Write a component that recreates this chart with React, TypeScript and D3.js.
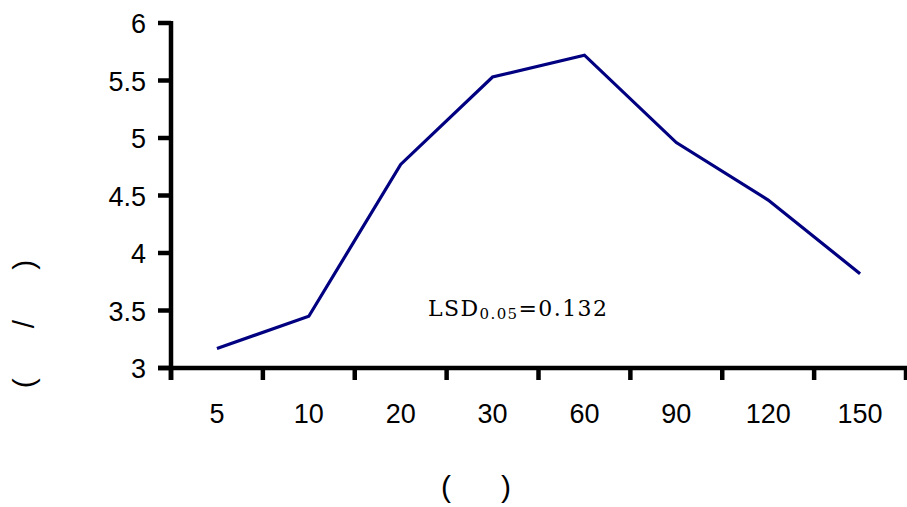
import React from "react";
import * as d3 from "d3";

const categories = ["5", "10", "20", "30", "60", "90", "120", "150"];
const values = [3.17, 3.45, 4.77, 5.53, 5.72, 4.96, 4.46, 3.82];
const yTicks = [3, 3.5, 4, 4.5, 5, 5.5, 6];
const yTickLabels = ["3", "3.5", "4", "4.5", "5", "5.5", "6"];
const annotation = { main: "LSD", sub: "0.05", rest: "=0.132" };
const xTitle = "(      )";
const yTitle = "(      /      )";

export default function App() {
  const W = 907, H = 507;
  const left = 171, right = 906, top = 23, bottom = 368;
  const x = d3.scaleBand<string>().domain(categories).range([left, right]);
  const y = d3.scaleLinear().domain([3, 6]).range([bottom, top]);
  const line = d3
    .line<number>()
    .x((_, i) => (x(categories[i]) as number) + x.bandwidth() / 2)
    .y((d) => y(d));
  const font = "'Liberation Sans', Arial, sans-serif";
  const xTickPos = [...categories.map((c) => x(c) as number), right];
  return (
    <svg width={W} height={H} style={{ position: "absolute", left: 0, top: 0, background: "#fff" }}>
      <path d={line(values) || ""} fill="none" stroke="#000080" strokeWidth={3.2} strokeLinejoin="miter" />
      {/* y axis */}
      <line x1={left} x2={left} y1={top - 2} y2={bottom + 12} stroke="#000" strokeWidth={4.5} />
      {yTicks.map((t, i) => (
        <g key={t}>
          <line x1={left - 13} x2={left} y1={y(t)} y2={y(t)} stroke="#000" strokeWidth={4.5} />
          <text x={146} y={y(t) + 10} textAnchor="end" fontFamily={font} fontSize={27} fill="#000">
            {yTickLabels[i]}
          </text>
        </g>
      ))}
      {/* x axis */}
      <line x1={left - 13} x2={right + 2} y1={bottom} y2={bottom} stroke="#000" strokeWidth={4.5} />
      {xTickPos.map((p, i) => (
        <line key={i} x1={p} x2={p} y1={bottom} y2={bottom + 12} stroke="#000" strokeWidth={4.5} />
      ))}
      {categories.map((c) => (
        <text key={c} x={(x(c) as number) + x.bandwidth() / 2} y={423} textAnchor="middle" fontFamily={font} fontSize={27} fill="#000">
          {c}
        </text>
      ))}
      <text x={428} y={316} fontFamily="'DejaVu Serif', serif" fontSize={22} letterSpacing={1.4} fill="#000">
        {annotation.main}
        <tspan fontSize={15} dy={3}>{annotation.sub}</tspan>
        <tspan dy={-3}>{annotation.rest}</tspan>
      </text>
      <text x={476} y={497} textAnchor="middle" fontFamily={font} fontSize={30} fill="#000" style={{ whiteSpace: "pre" }}>
        {xTitle}
      </text>
      <text transform={`translate(34,324) rotate(-90)`} textAnchor="middle" fontFamily={font} fontSize={30} fill="#000" style={{ whiteSpace: "pre" }}>
        {yTitle}
      </text>
    </svg>
  );
}
